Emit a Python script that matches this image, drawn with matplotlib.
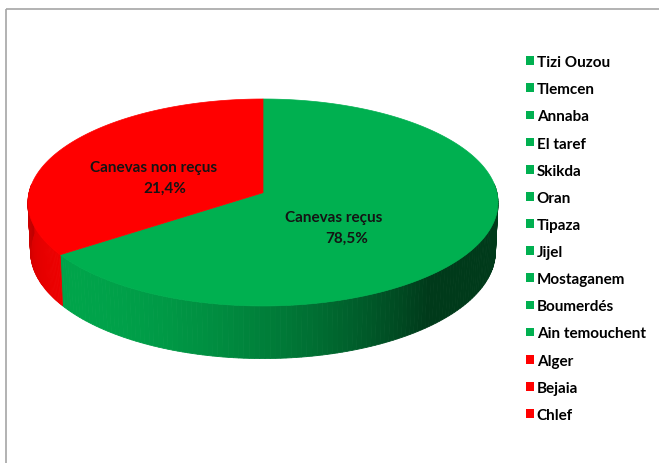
import numpy as np
import matplotlib
matplotlib.use("Agg")
from matplotlib import pyplot as plt
from matplotlib.patches import Polygon, Patch, Rectangle

plt.rcParams['font.family'] = ['Lato', 'DejaVu Sans']

# data
wilayas = ["Tizi Ouzou", "Tlemcen", "Annaba", "El taref", "Skikda", "Oran",
           "Tipaza", "Jijel", "Mostaganem", "Boumerdés", "Ain temouchent",
           "Alger", "Bejaia", "Chlef"]
recu = [1, 1, 1, 1, 1, 1, 1, 1, 1, 1, 1, 0, 0, 0]
slice_names = ["Canevas reçus", "Canevas non reçus"]
slice_pct_text = ["78,5%", "21,4%"]
# share of the circle as the wedges are drawn in the picture
slice_share = [65.3, 34.7]

green = np.array([0, 176, 80]) / 255.0
red = np.array([255, 0, 0]) / 255.0
slice_colors = [green, red]

# simple perspective camera
elev = np.radians(26)
dist = 9.5
thick = 0.235
se, ce = np.sin(elev), np.cos(elev)


def proj(x, y, z):
    # x right, y away from viewer, z up
    depth = (y + dist * ce) * ce - (z - dist * se) * se
    xs = x / depth
    ys = ((y + dist * ce) * se + (z - dist * se) * ce) / depth
    return xs, ys


t = np.linspace(0, 2 * np.pi, 721)
tx, ty = proj(np.cos(t), np.sin(t), 0 * t)
scale = 470 / (tx.max() - tx.min())
cx, top_y = 263, 100
ytop = ty.max()


def to_px(xs, ys):
    return cx + scale * np.asarray(xs), top_y + scale * (ytop - np.asarray(ys))


fig = plt.figure(figsize=(6.59, 4.64), dpi=100)
ax = fig.add_axes([0, 0, 1, 1])
ax.set_xlim(0, 659)
ax.set_ylim(464, 0)
ax.axis('off')

ax.add_patch(Rectangle((6, 10), 700, 500, fill=False, ec='#a6a6a6', lw=1.2))

# slice angles: start at the top, clockwise
fracs = np.array(slice_share) / sum(slice_share)
starts = np.pi / 2 - np.concatenate([[0], np.cumsum(fracs)[:-1]]) * 2 * np.pi
ends = starts - fracs * 2 * np.pi

light = np.array([-0.75, -0.65])
light = light / np.linalg.norm(light)

# side walls (front half only)
for st, en, col in zip(starts, ends, slice_colors):
    angs = np.linspace(st, en, 200)
    for a0, a1 in zip(angs[:-1], angs[1:]):
        am = 0.5 * (a0 + a1)
        if np.sin(am) > 0.08:
            continue
        k = 0.33 + 0.6 * max(0.0, np.cos(am) * light[0] + np.sin(am) * light[1])
        k = min(k, 1.0)
        xa, ya = proj(np.cos([a0, a1, a1, a0]), np.sin([a0, a1, a1, a0]),
                      np.array([0, 0, -thick, -thick]))
        px, py = to_px(xa, ya)
        ax.add_patch(Polygon(np.c_[px, py], closed=True, fc=col * k, ec=col * k, lw=0.6))

# top faces
for st, en, col in zip(starts, ends, slice_colors):
    angs = np.linspace(st, en, 300)
    xa, ya = proj(np.r_[0, np.cos(angs)], np.r_[0, np.sin(angs)], np.zeros(len(angs) + 1))
    px, py = to_px(xa, ya)
    ax.add_patch(Polygon(np.c_[px, py], closed=True, fc=col, ec=col, lw=0.5))

# data labels
name_pos = [(334, 218), (154, 168)]
pct_pos = [(347, 239), (165, 189)]
for name, pct, npos, ppos in zip(slice_names, slice_pct_text, name_pos, pct_pos):
    ax.text(*npos, name, ha='center', va='center', fontsize=11,
            fontweight='bold', color='#141414')
    ax.text(*ppos, pct, ha='center', va='center', fontsize=11,
            fontweight='bold', color='#141414')

# legend
handles = [Patch(fc=green if r else red, ec='none', label=w) for w, r in zip(wilayas, recu)]
ax.legend(handles=handles, loc='upper left', bbox_to_anchor=(520 / 659, 1 - 50 / 464),
          frameon=False, handlelength=0.5, handleheight=0.5,
          handletextpad=0.2, labelspacing=0.86, borderaxespad=0,
          prop={'weight': 'bold', 'size': 11})

fig.savefig("out.png", dpi=100)
